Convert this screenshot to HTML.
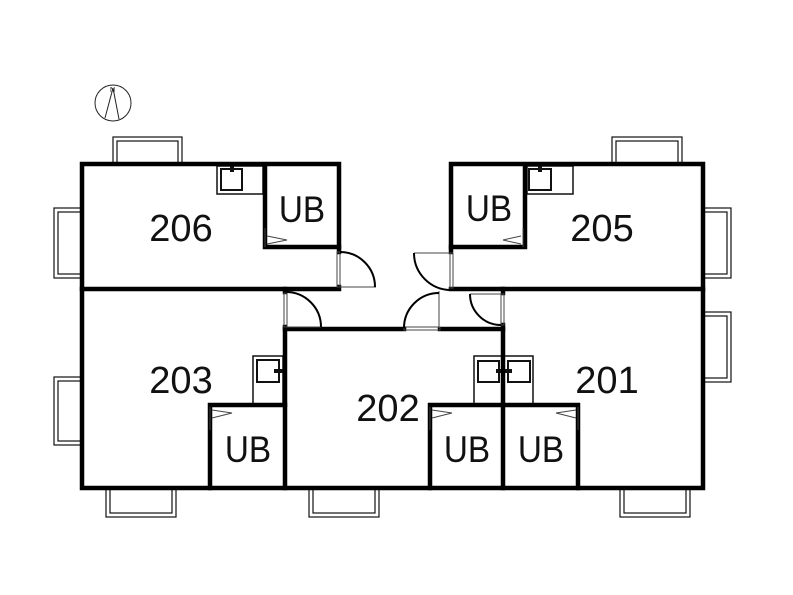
<!DOCTYPE html>
<html><head><meta charset="utf-8"><style>
html,body{margin:0;padding:0;background:#fff;}
svg{display:block;}
text{font-family:"Liberation Sans","DejaVu Sans",sans-serif;fill:#111;}
</style></head><body>
<svg width="793" height="595" viewBox="0 0 793 595" xmlns="http://www.w3.org/2000/svg">
<rect width="793" height="595" fill="#fff"/>
<g fill="none" stroke="#222" stroke-width="1">
<circle cx="113" cy="103" r="18"/>
<path d="M105 118 L113 88 L119 119"/>
</g>
<text x="110" y="92" font-size="7">N</text>

<g fill="#fff" stroke="#111" stroke-width="1.2">
<rect x="113" y="137" width="69" height="28"/><rect x="117" y="141" width="61" height="24"/>
<rect x="612" y="137" width="70" height="28"/><rect x="616" y="141" width="62" height="24"/>
<rect x="54" y="208" width="28" height="70"/><rect x="58" y="212" width="24" height="62"/>
<rect x="54" y="377" width="28" height="68"/><rect x="58" y="381" width="24" height="60"/>
<rect x="703" y="208" width="28" height="70"/><rect x="703" y="212" width="24" height="62"/>
<rect x="703" y="312" width="28" height="70"/><rect x="703" y="316" width="24" height="62"/>
<rect x="106" y="488" width="70" height="29"/><rect x="110" y="488" width="62" height="25"/>
<rect x="309" y="488" width="70" height="29"/><rect x="313" y="488" width="62" height="25"/>
<rect x="620" y="488" width="70" height="29"/><rect x="624" y="488" width="62" height="25"/>
</g>

<g fill="none" stroke="#111" stroke-width="1.5">
<rect x="217" y="166" width="46" height="28"/><rect x="221" y="169" width="21" height="21" stroke-width="2"/>
<rect x="527" y="166" width="46" height="28"/><rect x="529" y="169" width="22" height="21" stroke-width="2"/>
<rect x="253" y="356" width="30" height="49"/><rect x="257" y="360" width="22" height="22" stroke-width="2"/>
<rect x="474" y="356" width="59" height="49"/><rect x="478" y="361" width="21" height="21" stroke-width="2"/><rect x="508" y="361" width="22" height="21" stroke-width="2"/>
</g>
<g fill="#111">
<rect x="230" y="166" width="4" height="6"/><rect x="538" y="166" width="4" height="6"/>
<rect x="274" y="369" width="10" height="4"/><rect x="496" y="369" width="16" height="4"/>
</g>

<g fill="none" stroke="#000" stroke-width="4.5" stroke-linecap="square">
<path d="M339 252 V164 H82 V488 H703 V164 H451 V252"/>
<path d="M82 289 H339 V287"/>
<path d="M265 166 V247 H339"/>
<path d="M451 289 H703"/>
<path d="M525 166 V247 H451"/>
<path d="M285 289 V292"/><path d="M285 327 V488"/>
<path d="M285 329 H404"/><path d="M440 329 H503"/>
<path d="M503 289 V293"/><path d="M503 325 V488"/>
<path d="M210 488 V405 H285"/>
<path d="M430 488 V405 H578 V488"/>
</g>
<g fill="none" stroke="#444" stroke-width="1">
<rect x="337" y="252" width="3" height="35"/>
<rect x="450" y="253" width="3" height="35"/>
<rect x="284" y="293" width="3" height="34"/>
<rect x="501" y="294" width="3" height="31"/>
<rect x="404" y="327" width="36" height="3"/>
<path d="M340 287 H376"/><path d="M414 253 H451"/><path d="M286 327 H321"/><path d="M470 294 H501"/><path d="M439 291 V328"/>
<path d="M265 228 V247 M267 236 L287 240 L267 244"/>
<path d="M523 228 V247 M521 236 L503 240 L521 244"/>
<path d="M210 407 V430 M212 410 L232 413 L212 418"/>
<path d="M430 407 V430 M432 410 L452 413 L432 418"/>
<path d="M578 407 V430 M576 410 L556 413 L576 418"/>
</g>
<g fill="none" stroke="#000" stroke-width="2">
<path d="M340 252 A35 35 0 0 1 375 287"/>
<path d="M414 253 A37 37 0 0 0 451 290"/>
<path d="M286 292 A35 35 0 0 1 321 327"/>
<path d="M404 328 A35 35 0 0 1 439 293"/>
<path d="M470 294 A31 31 0 0 0 501 325"/>
</g>

<g font-size="38" text-anchor="middle">
<text x="181" y="241">206</text>
<text x="602" y="241">205</text>
<text x="181" y="393">203</text>
<text x="388" y="421">202</text>
<text x="607" y="393">201</text>
</g>
<g font-size="37" text-anchor="middle">
<text transform="translate(302 222) scale(0.9 1)">UB</text>
<text transform="translate(489 221) scale(0.9 1)">UB</text>
<text transform="translate(248 462) scale(0.9 1)">UB</text>
<text transform="translate(467 462) scale(0.9 1)">UB</text>
<text transform="translate(541 462) scale(0.9 1)">UB</text>
</g>
</svg>
</body></html>
